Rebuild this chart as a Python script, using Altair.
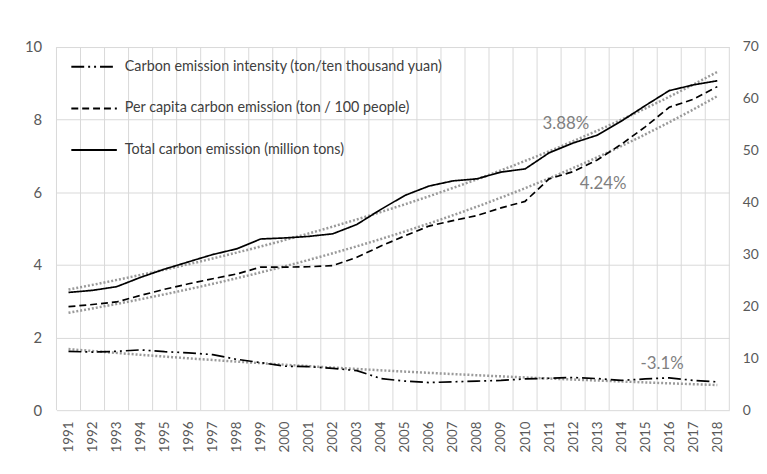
import altair as alt
import pandas as pd

years = list(range(1991, 2019))
intensity = [1.62, 1.60, 1.62, 1.66, 1.61, 1.58, 1.53, 1.40, 1.31, 1.21, 1.20, 1.15, 1.09, 0.87,
             0.80, 0.76, 0.78, 0.80, 0.82, 0.86, 0.88, 0.90, 0.87, 0.82, 0.86, 0.89, 0.82, 0.78]
per_capita = [2.85, 2.91, 2.98, 3.16, 3.33, 3.48, 3.62, 3.75, 3.94, 3.94, 3.95, 3.98, 4.21, 4.52,
              4.80, 5.07, 5.22, 5.36, 5.57, 5.75, 6.37, 6.57, 6.89, 7.32, 7.80, 8.34, 8.56, 8.91]
total = [22.7, 23.1, 23.8, 25.6, 27.2, 28.6, 30.0, 31.1, 33.0, 33.2, 33.5, 34.0, 35.8, 38.7,
         41.4, 43.2, 44.2, 44.6, 45.9, 46.5, 49.6, 51.5, 53.0, 55.7, 58.7, 61.6, 62.7, 63.5]

series_names = ["Carbon emission intensity (ton/ten thousand yuan)",
                "Per capita carbon emission (ton / 100 people)",
                "Total carbon emission (million tons)"]
dash_patterns = [[13, 4, 2, 4, 2, 4], [7, 4], [1, 0]]

ann_text = ["3.88%", "4.24%", "-3.1%"]
ann_x = [2011.7, 2013.25, 2015.7]
ann_y = [7.87, 6.24, 1.26]

left_df = pd.DataFrame({
    "year": years * 2,
    "value": intensity + per_capita,
    "series": [series_names[0]] * len(years) + [series_names[1]] * len(years),
})
right_df = pd.DataFrame({"year": years, "total": total, "series": [series_names[2]] * len(years)})
ann_df = pd.DataFrame({"ax": ann_x, "ay": ann_y, "label": ann_text})
# category boundaries (Excel style vertical gridlines between years)
grid_df = pd.DataFrame({"gx": [y - 0.5 for y in years] + [years[-1] + 0.5]})

x_axis = alt.Axis(
    values=years, format="d",
    labelAngle=-90, labelOverlap=False, labelFontSize=13.5, labelColor="#595959",
    labelPadding=11, ticks=False, domain=False, title=None, grid=False,
)
x_scale = alt.Scale(domain=[1990.5, 2018.5], nice=False, zero=False)

left_axis = alt.Axis(values=[0, 2, 4, 6, 8, 10], title=None, grid=True, gridColor="#d9d9d9",
                     domain=False, ticks=False, labelPadding=15, labelFontSize=15, labelColor="#595959")
right_axis = alt.Axis(values=list(range(0, 80, 10)), title=None, grid=False, orient="right",
                      domain=False, ticks=False, labelPadding=13, labelFontSize=14, labelColor="#595959")
left_scale = alt.Scale(domain=[0, 10], nice=False)
right_scale = alt.Scale(domain=[0, 70], nice=False)

legend = alt.Legend(title=None, orient="none", legendX=14, legendY=-4, symbolType="stroke",
                    symbolSize=2116, symbolStrokeWidth=2, symbolStrokeColor="black",
                    labelFontSize=14.5, labelColor="#404040", rowPadding=11, labelOffset=7,
                    labelLimit=500)
dash = alt.StrokeDash("series:N", scale=alt.Scale(domain=series_names, range=dash_patterns),
                      legend=legend)

vgrid = alt.Chart(grid_df).mark_rule(color="#d9d9d9", strokeWidth=1).encode(
    x=alt.X("gx:Q", scale=x_scale, axis=x_axis),
)
left_lines = alt.Chart(left_df).mark_line(color="black", strokeWidth=1.7).encode(
    x=alt.X("year:Q", scale=x_scale, axis=x_axis),
    y=alt.Y("value:Q", scale=left_scale, axis=left_axis),
    strokeDash=dash,
    detail="series:N",
)
left_trend = alt.Chart(left_df).transform_regression(
    "year", "value", method="exp", groupby=["series"]
).mark_line(color="#9a9a9a", strokeWidth=2.5, strokeDash=[2, 2]).encode(
    x=alt.X("year:Q", scale=x_scale, axis=x_axis),
    y=alt.Y("value:Q", scale=left_scale, axis=left_axis),
    detail="series:N",
)
ann = alt.Chart(ann_df).mark_text(color="#7f7f7f", fontSize=17).encode(
    x=alt.X("ax:Q", scale=x_scale, axis=x_axis),
    y=alt.Y("ay:Q", scale=left_scale, axis=left_axis),
    text="label:N",
)
right_line = alt.Chart(right_df).mark_line(color="black", strokeWidth=1.7).encode(
    x=alt.X("year:Q", scale=x_scale, axis=x_axis),
    y=alt.Y("total:Q", scale=right_scale, axis=right_axis),
    strokeDash=dash,
)
right_trend = alt.Chart(right_df).transform_regression(
    "year", "total", method="exp"
).mark_line(color="#9a9a9a", strokeWidth=2.5, strokeDash=[2, 2]).encode(
    x=alt.X("year:Q", scale=x_scale, axis=x_axis),
    y=alt.Y("total:Q", scale=right_scale, axis=right_axis),
)

left = alt.layer(vgrid, left_trend, left_lines, ann)
right = alt.layer(right_trend, right_line)

chart = alt.layer(left, right).resolve_scale(y="independent").properties(
    width=680, height=367,
    autosize=alt.AutoSizeParams(type="none"),
    padding={"left": 49, "top": 37, "right": 30, "bottom": 57},
).configure(font="Lato").configure_view(stroke=None)

chart.save("out.html", embed_options={"renderer": "svg", "actions": False})
